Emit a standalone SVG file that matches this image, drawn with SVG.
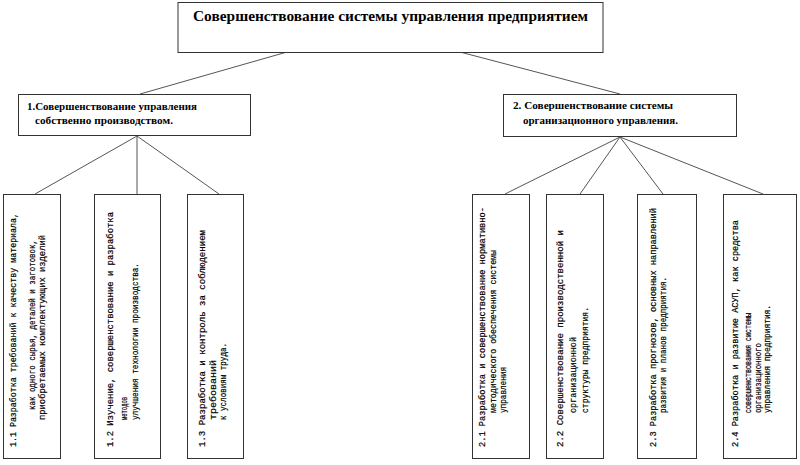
<svg xmlns="http://www.w3.org/2000/svg" width="800" height="465" viewBox="0 0 800 465">
<style>
.box{fill:#fff;stroke:#333;stroke-width:1}
.ln{stroke:#555;stroke-width:1;fill:none}
.t{font-family:"Liberation Serif","DejaVu Serif","Times New Roman",serif;font-weight:bold;fill:#000}
.m{font-family:"Liberation Mono","DejaVu Sans Mono","Courier New",monospace;font-size:9px;fill:#000;stroke:#000;stroke-width:0.2}
</style>
<rect width="800" height="465" fill="#fff"/>
<g id="connectors">
<line class="ln" x1="287" y1="52" x2="140" y2="94"/>
<line class="ln" x1="460" y1="52" x2="620" y2="94"/>
<line class="ln" x1="137" y1="136" x2="35" y2="194"/>
<line class="ln" x1="137" y1="136" x2="137" y2="194"/>
<line class="ln" x1="137" y1="136" x2="219" y2="194"/>
<line class="ln" x1="620" y1="137" x2="505" y2="194"/>
<line class="ln" x1="620" y1="137" x2="580" y2="194"/>
<line class="ln" x1="620" y1="137" x2="663" y2="194"/>
<line class="ln" x1="620" y1="137" x2="763" y2="194"/>
</g>
<g id="root">
<rect class="box" x="178" y="2.5" width="425" height="50"/>
<text class="t" x="193" y="21" font-size="15" textLength="395" lengthAdjust="spacingAndGlyphs">Совершенствование системы управления предприятием</text>
</g>
<g id="n1">
<rect class="box" x="18.5" y="94.5" width="232" height="41"/>
<text class="t" x="27" y="110" font-size="9.5" textLength="170" lengthAdjust="spacingAndGlyphs">1.Совершенствование  управления</text>
<text class="t" x="35" y="124" font-size="9.5" textLength="138" lengthAdjust="spacingAndGlyphs">собственно производством.</text>
</g>
<g id="n2">
<rect class="box" x="503.5" y="94.5" width="233" height="42"/>
<text class="t" x="513" y="109" font-size="9.5" textLength="160" lengthAdjust="spacingAndGlyphs">2. Совершенствование  системы</text>
<text class="t" x="523" y="124" font-size="9.5" textLength="155" lengthAdjust="spacingAndGlyphs">организационного управления.</text>
</g>
<g id="n11">
<rect class="box" x="3.5" y="194.5" width="57" height="264"/>
<text class="m" transform="translate(16,447) rotate(-90)" textLength="234" lengthAdjust="spacingAndGlyphs">1.1  Разработка требований к качеству материала,</text>
<text class="m" transform="translate(35,410) rotate(-90)" textLength="170" lengthAdjust="spacingAndGlyphs">как одного сырья, деталей и заготовок,</text>
<text class="m" transform="translate(45,420) rotate(-90)" textLength="185" lengthAdjust="spacingAndGlyphs">приобретаемых комплектующих изделий</text>
</g>
<g id="n12">
<rect class="box" x="94.5" y="194.5" width="66" height="264"/>
<text class="m" transform="translate(113,447) rotate(-90)" textLength="235" lengthAdjust="spacingAndGlyphs">1.2  Изучение, совершенствование и разработка</text>
<text class="m" transform="translate(127,420) rotate(-90)" textLength="23" lengthAdjust="spacingAndGlyphs">методов</text>
<text class="m" transform="translate(138,420) rotate(-90)" textLength="157" lengthAdjust="spacingAndGlyphs">улучшения технологии производства.</text>
</g>
<g id="n13">
<rect class="box" x="187.5" y="194.5" width="56" height="264"/>
<text class="m" transform="translate(205,447) rotate(-90)" textLength="217" lengthAdjust="spacingAndGlyphs">1.3  Разработка и контроль за соблюдением</text>
<text class="m" transform="translate(216,420) rotate(-90)" textLength="60" lengthAdjust="spacingAndGlyphs">требований</text>
<text class="m" transform="translate(226,420) rotate(-90)" textLength="77" lengthAdjust="spacingAndGlyphs">к условиям труда.</text>
</g>
<g id="n21">
<rect class="box" x="472.5" y="194.5" width="57" height="264"/>
<text class="m" transform="translate(485,447) rotate(-90)" textLength="240" lengthAdjust="spacingAndGlyphs">2.1  Разработка и совершенствование нормативно-</text>
<text class="m" transform="translate(496,413) rotate(-90)" textLength="163" lengthAdjust="spacingAndGlyphs">методического обеспечения системы</text>
<text class="m" transform="translate(506,413) rotate(-90)" textLength="46" lengthAdjust="spacingAndGlyphs">управления</text>
</g>
<g id="n22">
<rect class="box" x="546.5" y="194.5" width="57" height="264"/>
<text class="m" transform="translate(563,447) rotate(-90)" textLength="217" lengthAdjust="spacingAndGlyphs">2.2  Совершенствование производственной и</text>
<text class="m" transform="translate(576,413) rotate(-90)" textLength="76" lengthAdjust="spacingAndGlyphs">организационной</text>
<text class="m" transform="translate(588,413) rotate(-90)" textLength="106" lengthAdjust="spacingAndGlyphs">структуры предприятия.</text>
</g>
<g id="n23">
<rect class="box" x="637.5" y="194.5" width="59" height="264"/>
<text class="m" transform="translate(656,447) rotate(-90)" textLength="239" lengthAdjust="spacingAndGlyphs">2.3  Разработка прогнозов, основных направлений</text>
<text class="m" transform="translate(666,413) rotate(-90)" textLength="136" lengthAdjust="spacingAndGlyphs">развития и планов предприятия.</text>
</g>
<g id="n24">
<rect class="box" x="723.5" y="194.5" width="73" height="264"/>
<text class="m" transform="translate(738,447) rotate(-90)" textLength="227" lengthAdjust="spacingAndGlyphs">2.4  Разработка и развитие АСУП, как средства</text>
<text class="m" transform="translate(751,413) rotate(-90)" textLength="100" lengthAdjust="spacingAndGlyphs">совершенствования   системы</text>
<text class="m" transform="translate(761,413) rotate(-90)" textLength="70" lengthAdjust="spacingAndGlyphs">организационного</text>
<text class="m" transform="translate(770,413) rotate(-90)" textLength="108" lengthAdjust="spacingAndGlyphs">управления предприятия.</text>
</g>
</svg>
